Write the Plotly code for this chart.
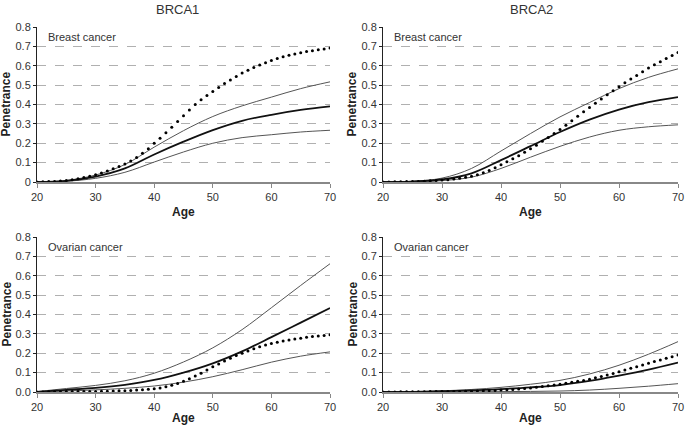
import plotly.graph_objects as go
from plotly.subplots import make_subplots

# ages for the solid curves (every 5 years) and the dotted curves (every year)
ages5 = [20, 25, 30, 35, 40, 45, 50, 55, 60, 65, 70]
ages1 = list(range(20, 71))

# BRCA1 breast
b1_br_upper = [0, 0.008, 0.036, 0.09, 0.18, 0.265, 0.338, 0.393, 0.438, 0.482, 0.517]
b1_br_mid = [0, 0.006, 0.028, 0.07, 0.142, 0.208, 0.268, 0.316, 0.347, 0.372, 0.39]
b1_br_lower = [0, 0.004, 0.019, 0.05, 0.103, 0.155, 0.2, 0.229, 0.244, 0.258, 0.267]
b1_br_dot = [0.000, 0.001, 0.002, 0.003, 0.005, 0.008, 0.012, 0.017, 0.023, 0.030,
             0.038, 0.047, 0.057, 0.068, 0.080, 0.093, 0.109, 0.127, 0.148, 0.172,
             0.200, 0.226, 0.254, 0.283, 0.312, 0.342, 0.372, 0.400, 0.425, 0.447,
             0.467, 0.488, 0.508, 0.527, 0.545, 0.562, 0.577, 0.591, 0.604, 0.616,
             0.627, 0.637, 0.646, 0.654, 0.661, 0.667, 0.673, 0.678, 0.683, 0.687,
             0.691]

# BRCA2 breast
b2_br_upper = [0, 0.004, 0.02, 0.07, 0.16, 0.25, 0.336, 0.41, 0.482, 0.54, 0.584]
b2_br_mid = [0, 0.002, 0.013, 0.045, 0.113, 0.185, 0.258, 0.322, 0.374, 0.412, 0.438]
b2_br_lower = [0, 0.001, 0.007, 0.025, 0.07, 0.128, 0.184, 0.232, 0.267, 0.285, 0.295]
b2_br_dot = [0.000, 0.000, 0.001, 0.001, 0.002, 0.002, 0.003, 0.004, 0.006, 0.008,
             0.010, 0.012, 0.015, 0.019, 0.024, 0.030, 0.038, 0.048, 0.060, 0.074,
             0.089, 0.104, 0.120, 0.136, 0.153, 0.171, 0.190, 0.210, 0.230, 0.250,
             0.271, 0.293, 0.316, 0.339, 0.362, 0.385, 0.407, 0.429, 0.450, 0.471,
             0.492, 0.512, 0.531, 0.550, 0.569, 0.588, 0.605, 0.621, 0.637, 0.653,
             0.669]

# BRCA1 ovarian
b1_ov_upper = [0.002, 0.018, 0.034, 0.058, 0.097, 0.155, 0.228, 0.322, 0.435, 0.55, 0.662]
b1_ov_mid = [0.001, 0.011, 0.021, 0.037, 0.062, 0.1, 0.148, 0.21, 0.283, 0.358, 0.433]
b1_ov_lower = [0.001, 0.005, 0.011, 0.019, 0.031, 0.051, 0.079, 0.115, 0.154, 0.185, 0.207]
b1_ov_dot = [0.000, 0.000, 0.001, 0.001, 0.001, 0.002, 0.002, 0.002, 0.003, 0.003,
             0.003, 0.004, 0.004, 0.005, 0.006, 0.007, 0.008, 0.010, 0.012, 0.014,
             0.017, 0.021, 0.027, 0.035, 0.044, 0.055, 0.068, 0.082, 0.097, 0.113,
             0.130, 0.145, 0.160, 0.174, 0.188, 0.200, 0.212, 0.223, 0.233, 0.242,
             0.250, 0.257, 0.263, 0.269, 0.274, 0.278, 0.282, 0.286, 0.289, 0.292,
             0.295]

# BRCA2 ovarian
b2_ov_upper = [0, 0.002, 0.006, 0.013, 0.024, 0.04, 0.06, 0.093, 0.138, 0.195, 0.26]
b2_ov_mid = [0, 0.001, 0.004, 0.008, 0.015, 0.024, 0.036, 0.057, 0.085, 0.116, 0.152]
b2_ov_lower = [0, 0, 0, 0.001, 0.002, 0.003, 0.005, 0.01, 0.019, 0.03, 0.043]
b2_ov_dot = [0.000, 0.000, 0.000, 0.001, 0.001, 0.001, 0.001, 0.001, 0.002, 0.002,
             0.002, 0.002, 0.003, 0.003, 0.004, 0.004, 0.005, 0.006, 0.007, 0.008,
             0.010, 0.011, 0.013, 0.015, 0.018, 0.021, 0.024, 0.028, 0.032, 0.036,
             0.040, 0.045, 0.050, 0.055, 0.060, 0.066, 0.073, 0.080, 0.088, 0.096,
             0.105, 0.113, 0.122, 0.130, 0.139, 0.148, 0.157, 0.165, 0.174, 0.182,
             0.191]

y_ticks = [0, 0.1, 0.2, 0.3, 0.4, 0.5, 0.6, 0.7, 0.8]
y_text_top = ['0', '0.1', '0.2', '0.3', '0.4', '0.5', '0.6', '0.7', '0.8']
y_text_bottom = ['0.0', '0.1', '0.2', '0.3', '0.4', '0.5', '0.6', '0.7', '0.8']
x_ticks = [20, 30, 40, 50, 60, 70]

W, H = 685, 427


def px(x):
    return x / W


def py(y):
    return 1 - y / H


panels = [
    (1, 1, b1_br_upper, b1_br_mid, b1_br_lower, b1_br_dot, 'Breast cancer', y_text_top),
    (1, 2, b2_br_upper, b2_br_mid, b2_br_lower, b2_br_dot, 'Breast cancer', y_text_top),
    (2, 1, b1_ov_upper, b1_ov_mid, b1_ov_lower, b1_ov_dot, 'Ovarian cancer', y_text_bottom),
    (2, 2, b2_ov_upper, b2_ov_mid, b2_ov_lower, b2_ov_dot, 'Ovarian cancer', y_text_bottom),
]

# plot-area pixel boxes (left, right, top, bottom)
boxes = {(1, 1): (37, 330, 27, 182), (1, 2): (383, 678, 27, 182),
         (2, 1): (37, 330, 237, 392), (2, 2): (383, 678, 237, 392)}

fig = make_subplots(rows=2, cols=2)
font = 'Liberation Sans, Arial, sans-serif'
annotations = []


def note(x, y, text, size=11, color='#333', angle=0, xanchor='center'):
    annotations.append(dict(x=px(x), y=py(y), xref='paper', yref='paper', text=text,
                            showarrow=False, xanchor=xanchor, yanchor='middle', textangle=angle,
                            font=dict(family=font, size=size, color=color)))


for row, col, up, mid, lo, dot, label, ytext in panels:
    for ys, w, c in [(lo, 1, '#555'), (up, 1, '#555'), (mid, 1.8, '#111')]:
        fig.add_trace(go.Scatter(x=ages5, y=ys, mode='lines', line=dict(color=c, width=w, shape='spline'),
                                 showlegend=False, hoverinfo='skip'), row=row, col=col)
    fig.add_trace(go.Scatter(x=ages1, y=dot, mode='markers',
                             marker=dict(color='#000', size=3, symbol='circle', line=dict(width=0)),
                             showlegend=False), row=row, col=col)
    l, r, t, b = boxes[(row, col)]
    fig.update_xaxes(domain=[px(l), px(r)], range=[20, 70], tickvals=x_ticks, automargin=False,
                     showgrid=False, zeroline=False, showline=True, linecolor='#888', linewidth=2,
                     ticks='outside', ticklen=4, tickcolor='#888',
                     tickfont=dict(family=font, size=11, color='#333'), row=row, col=col)
    fig.update_yaxes(domain=[py(b), py(t)], range=[0, 0.8], tickvals=y_ticks, ticktext=ytext,
                     automargin=False, showgrid=True, gridcolor='#b0b0b0', griddash='dash', gridwidth=1,
                     zeroline=False, showline=True, linecolor='#222', linewidth=1,
                     ticks='outside', ticklen=3, tickcolor='#222',
                     tickfont=dict(family=font, size=11, color='#333'), row=row, col=col)
    note(l + 9, t + 10, label, xanchor='left')
    note((l + r) / 2, min(b + 30, 418), '<b>Age</b>', size=12, color='#222')
    note(l - 31, (t + b) / 2, '<b>Penetrance</b>', size=12, color='#222', angle=-90)

note(177, 9, 'BRCA1', size=13)
note(531, 9, 'BRCA2', size=13)

fig.update_layout(width=W, height=H, margin=dict(l=0, r=0, t=0, b=0),
                  plot_bgcolor='white', paper_bgcolor='white', annotations=annotations)

# drop the browser's default page margin so the figure sits at the window corner
fig.write_html("out.html", config={'displayModeBar': False},
               post_script="document.body.style.margin = '0';")
